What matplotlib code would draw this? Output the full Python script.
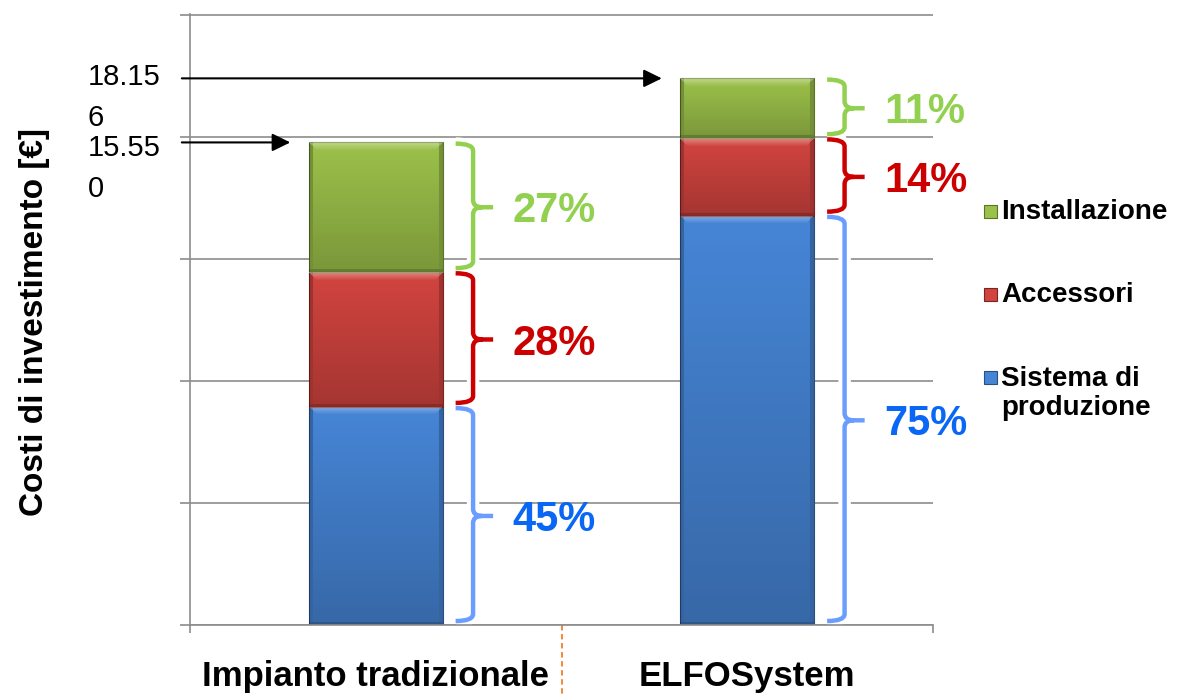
import numpy as np
import matplotlib.pyplot as plt
from matplotlib.path import Path
from matplotlib.patches import PathPatch, Rectangle
from matplotlib.transforms import blended_transform_factory

plt.rcParams['font.family'] = ['Liberation Sans', 'DejaVu Sans']

categories = ['Impianto tradizionale', 'ELFOSystem']
series = ['Sistema di\nproduzione', 'Accessori', 'Installazione']
sistema = [7150, 13420]
accessori = [4420, 2540]
installazione = [4250, 1960]
total_labels = ['15.550', '18.156']

bar_colors = ['#4685d6', '#d2443f', '#9cc14a']
edge_colors = ['#2c4f80', '#7a2422', '#5c7428']
brace_colors = ['#6b9dff', '#cc0000', '#92d050']
pct_colors = ['#0a66f5', '#cc0000', '#92d050']

W_PX, H_PX = 1182, 694
fig = plt.figure(figsize=(W_PX / 100, H_PX / 100), dpi=100)
ax = fig.add_axes([190 / W_PX, 69 / H_PX, 743 / W_PX, 611 / H_PX])
x = np.arange(len(categories))
ax.set_xlim(-0.5, 1.5)
ax.set_ylim(0, 20030)


def shade(bar):
    # fake the bevelled office look with two overlays clipped to the bar
    x0, y0 = bar.get_x(), bar.get_y()
    w, h = bar.get_width(), bar.get_height()
    (px0, py0), (px1, py1) = ax.transData.transform([(x0, y0), (x0 + w, y0 + h)])
    W, H = max(int(px1 - px0), 2), max(int(py1 - py0), 2)
    yy, xx = np.mgrid[0:H, 0:W]
    dark = 0.22 * yy / H
    dark = np.maximum(dark, np.where(H - yy < 4, 0.35, 0))
    side = np.minimum(xx, W - 1 - xx)
    dark = np.maximum(dark, np.where(side < 4, 0.25, 0))
    light = np.where(yy < 8, 0.35 * (1 - yy / 8), 0)
    light = np.where(side < yy, 0, light)
    for col, alpha in (('black', dark), ('white', light)):
        img = np.zeros((H, W, 4))
        img[..., :3] = 1.0 if col == 'white' else 0.0
        img[..., 3] = alpha
        im = ax.imshow(img, extent=(x0, x0 + w, y0, y0 + h), origin='upper',
                       aspect='auto', interpolation='bilinear', zorder=2.1)
        im.set_clip_path(bar)


def brace(xc, y0, y1, color):
    xl, xs, xt = xc + 0.215, xc + 0.262, xc + 0.316
    r = 230
    ym = (y0 + y1) / 2
    verts = [(xl, y1 - 40), (xs, y1 - 40), (xs, y1 - 40 - r), (xs, ym + r),
             (xs, ym), (xs + 0.025, ym), (xt, ym),
             (xs + 0.025, ym), (xs, ym), (xs, ym - r), (xs, y0 + 130 + r),
             (xs, y0 + 130), (xl, y0 + 130)]
    codes = [Path.MOVETO, Path.CURVE3, Path.CURVE3, Path.LINETO,
             Path.CURVE3, Path.CURVE3, Path.LINETO,
             Path.MOVETO, Path.CURVE3, Path.CURVE3, Path.LINETO,
             Path.CURVE3, Path.CURVE3]
    path = Path(verts, codes)
    ax.add_patch(PathPatch(path, fill=False, edgecolor='white', lw=9, zorder=2.5, clip_on=False))
    ax.add_patch(PathPatch(path, fill=False, edgecolor=color, lw=3.2, capstyle='butt',
                           joinstyle='round', zorder=3, clip_on=False))
    return ym


bottoms = np.zeros(len(categories))
layers = [sistema, accessori, installazione]
totals = np.sum(layers, axis=0)
for vals, col, ec, bcol, pcol in zip(layers, bar_colors, edge_colors, brace_colors, pct_colors):
    bars = ax.bar(x, vals, 0.36, bottom=bottoms, color=col, edgecolor=ec, lw=0.8, zorder=2)
    for b in bars:
        shade(b)
    for xi, v, b0, tot in zip(x, vals, bottoms, totals):
        ym = brace(xi, b0, b0 + v, bcol)
        ax.annotate(f'{round(v / tot * 100)}%', xy=(xi + 0.368, ym), xytext=(0, -3),
                    textcoords='offset points', color=pcol, fontsize=30,
                    fontweight='bold', va='center', ha='left', annotation_clip=False)
    bottoms += vals

ax.set_xlim(-0.5, 1.5)
ax.set_ylim(0, 20030)

# arrows + total labels on the left (the lower label sits a bit lower so they don't touch)
for xi, tot, lab in zip(x, totals, total_labels):
    ax.annotate('', xy=(xi - 0.23, tot), xytext=(-0.522, tot),
                arrowprops=dict(arrowstyle='-|>,head_length=0.55,head_width=0.27',
                                mutation_scale=20, color='black', lw=1.5,
                                shrinkA=0, shrinkB=0),
                annotation_clip=False)
    dy = -14 if tot == totals.max() else -19
    ax.annotate(lab[:-1] + '\n' + lab[-1], xy=(-0.7746, tot), xytext=(0, dy),
                textcoords='offset points', fontsize=21, va='center', ha='left',
                linespacing=1.6, annotation_clip=False)

ax.set_yticks(np.arange(0, 20001, 4000))
ax.yaxis.grid(True, color='#8c8c8c', lw=1.2)
ax.set_axisbelow(True)
ax.tick_params(axis='y', length=7.5, width=1.2, color='#8c8c8c', labelleft=False)
ax.set_xticks(x)
ax.set_xticklabels(categories, fontsize=25, fontweight='bold')
ax.set_xticks([-0.5, 1.5], minor=True)
ax.tick_params(axis='x', which='major', length=0, pad=25)
ax.tick_params(axis='x', which='minor', length=6, width=1.2, color='#8c8c8c')
for s in ['top', 'right']:
    ax.spines[s].set_visible(False)
for s in ['left', 'bottom']:
    ax.spines[s].set_color('#8c8c8c')
    ax.spines[s].set_linewidth(1.2)

# orange dashed separator under the axis
ax.plot([0.5, 0.5], [0, -0.12], transform=blended_transform_factory(ax.transData, ax.transAxes),
        color='#f07f2a', ls=(0, (3, 2)), lw=1.3, clip_on=False)

fig.text(35 / W_PX, 1 - 322 / H_PX, 'Costi di investimento [€]', rotation=90,
         fontsize=24, fontweight='bold', ha='center', va='center')

# legend by hand, top entry = last series; marker sits on the first text line
for i, (lab, col, ec) in enumerate(zip(series[::-1], bar_colors[::-1], edge_colors[::-1])):
    yc = 1 - (211 + 83 * i) / H_PX
    nl = lab.count('\n')
    fig.add_artist(Rectangle((984 / W_PX, yc - 6.5 / H_PX), 13 / W_PX, 13 / H_PX,
                             transform=fig.transFigure, facecolor=col, edgecolor=ec, lw=0.8))
    fig.text(1001 / W_PX, yc - (8 + 30 * nl) / H_PX, lab, fontsize=20, fontweight='bold',
             ha='left', va='baseline', linespacing=1.15)

fig.savefig('out.png', dpi=100)
